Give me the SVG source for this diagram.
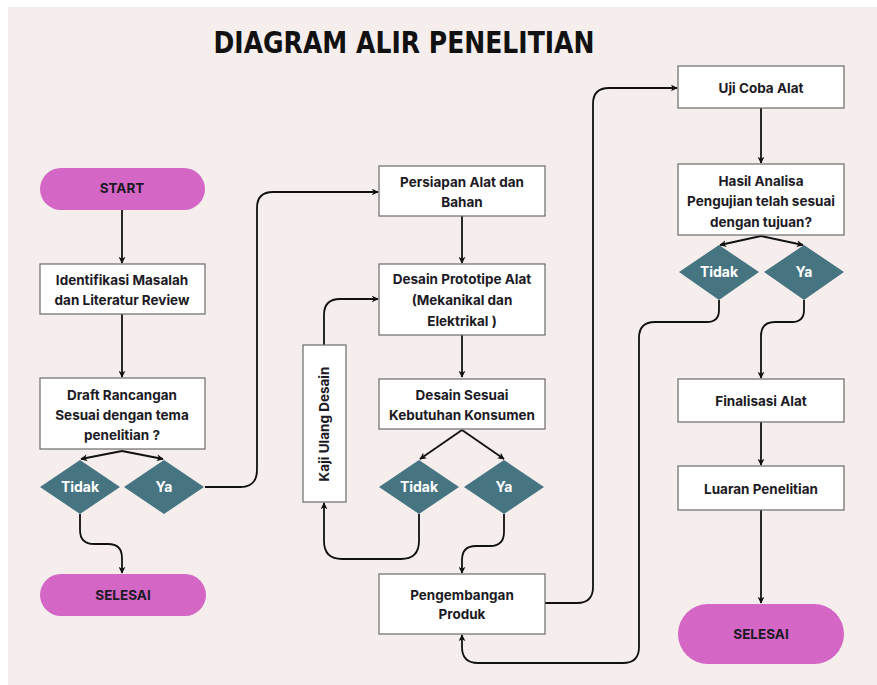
<svg xmlns="http://www.w3.org/2000/svg" width="877" height="685" viewBox="0 0 877 685">
<style>
.box{fill:#ffffff;stroke:#6b6b6b;stroke-width:1.2}
.pill{fill:#d466c5}
.dia{fill:#467581}
.t{font-family:Inter,"Noto Sans",sans-serif;font-weight:700;font-size:13.5px;fill:#1c1a24;text-anchor:middle}
.w{font-family:Inter,"Noto Sans",sans-serif;font-weight:700;font-size:14px;fill:#ffffff;text-anchor:middle}
.c{fill:none;stroke:#111111;stroke-width:1.8;marker-end:url(#ah)}
</style>
<defs>
<marker id="ah" viewBox="0 0 10 10" refX="9" refY="5" markerWidth="7" markerHeight="7" markerUnits="userSpaceOnUse" orient="auto">
<path d="M0,0 L10,5 L0,10 L3,5 Z" fill="#111111"/>
</marker>
</defs>
<rect width="877" height="685" fill="#ffffff"/>
<rect x="8" y="7" width="869" height="678" fill="#f5eeec"/>
<text x="404" y="53" font-family="'DejaVu Sans Condensed','DejaVu Sans',sans-serif" font-weight="700" font-size="30" fill="#111111" text-anchor="middle" textLength="381" lengthAdjust="spacingAndGlyphs">DIAGRAM ALIR PENELITIAN</text>

<g id="connectors">
<path class="c" d="M122,210 V263"/>
<path class="c" d="M122,314 V377"/>
<path class="c" d="M122,451 L81,459"/>
<path class="c" d="M122,451 L163,459"/>
<path class="c" d="M80,514 V530 Q80,544 94,544 H108 Q122,544 122,558 V573"/>
<path class="c" d="M205,487 H240 Q257,487 257,470 V208 Q257,192 273,192 H378"/>
<path class="c" d="M462,216 V263"/>
<path class="c" d="M462,335 V377"/>
<path class="c" d="M462,430 L420,459"/>
<path class="c" d="M462,430 L504,459"/>
<path class="c" d="M324,345 V315 Q324,299 340,299 H378"/>
<path class="c" d="M419,514 V541 Q419,559 401,559 H342 Q324,559 324,541 V503"/>
<path class="c" d="M504,514 V532 Q504,546 490,546 H476 Q462,546 462,560 V573"/>
<path class="c" d="M545,603 H577 Q593,603 593,587 V104 Q593,88 609,88 H677"/>
<path class="c" d="M761,108 V163"/>
<path class="c" d="M761,236 L720,245"/>
<path class="c" d="M761,236 L803,245"/>
<path class="c" d="M719,300 V310 Q719,322 707,322 H655 Q639,322 639,338 V647 Q639,663 623,663 H478 Q462,663 462,647 V635"/>
<path class="c" d="M804,300 V310 Q804,322 792,322 H775 Q761,322 761,336 V378"/>
<path class="c" d="M761,422 V465"/>
<path class="c" d="M761,510 V603"/>
</g>

<g id="start"><rect class="pill" x="40" y="168" width="165" height="42" rx="21"/><text class="t" x="122" y="193" font-size="14">START</text></g>
<g id="identifikasi"><rect class="box" x="40" y="264" width="165" height="50"/><text class="t" x="122" y="285">Identifikasi Masalah</text><text class="t" x="122" y="305">dan Literatur Review</text></g>
<g id="draft"><rect class="box" x="40" y="378" width="165" height="71"/><text class="t" x="122" y="400">Draft Rancangan</text><text class="t" x="122" y="420">Sesuai dengan tema</text><text class="t" x="122" y="440">penelitian ?</text></g>
<g id="tidak1"><polygon class="dia" points="80,460 120,487 80,514 40,487"/><text class="w" x="80" y="492">Tidak</text></g>
<g id="ya1"><polygon class="dia" points="164,460 204,487 164,514 124,487"/><text class="w" x="164" y="492">Ya</text></g>
<g id="selesai1"><rect class="pill" x="40" y="574" width="166" height="42" rx="21"/><text class="t" x="123" y="600" font-size="14">SELESAI</text></g>

<g id="persiapan"><rect class="box" x="379" y="166" width="166" height="50"/><text class="t" x="462" y="187">Persiapan Alat dan</text><text class="t" x="462" y="207">Bahan</text></g>
<g id="prototipe"><rect class="box" x="379" y="264" width="166" height="71"/><text class="t" x="462" y="284">Desain Prototipe Alat</text><text class="t" x="462" y="305">(Mekanikal dan</text><text class="t" x="462" y="326">Elektrikal )</text></g>
<g id="kebutuhan"><rect class="box" x="379" y="379" width="166" height="50"/><text class="t" x="462" y="400">Desain Sesuai</text><text class="t" x="462" y="420">Kebutuhan Konsumen</text></g>
<g id="kaji"><rect class="box" x="303" y="345" width="43" height="157"/><text class="t" transform="translate(329,424) rotate(-90)" x="0" y="0">Kaji Ulang Desain</text></g>
<g id="tidak2"><polygon class="dia" points="419,460 459,487 419,514 379,487"/><text class="w" x="419" y="492">Tidak</text></g>
<g id="ya2"><polygon class="dia" points="504,460 544,487 504,514 464,487"/><text class="w" x="504" y="492">Ya</text></g>
<g id="pengembangan"><rect class="box" x="379" y="574" width="166" height="60"/><text class="t" x="462" y="600">Pengembangan</text><text class="t" x="462" y="619">Produk</text></g>

<g id="ujicoba"><rect class="box" x="678" y="66" width="166" height="42"/><text class="t" x="761" y="93">Uji Coba Alat</text></g>
<g id="hasil"><rect class="box" x="678" y="164" width="166" height="71"/><text class="t" x="761" y="186">Hasil Analisa</text><text class="t" x="761" y="206">Pengujian telah sesuai</text><text class="t" x="761" y="227">dengan tujuan?</text></g>
<g id="tidak3"><polygon class="dia" points="719,245 759,272 719,300 679,272"/><text class="w" x="719" y="277">Tidak</text></g>
<g id="ya3"><polygon class="dia" points="804,245 844,272 804,300 764,272"/><text class="w" x="804" y="277">Ya</text></g>
<g id="finalisasi"><rect class="box" x="678" y="379" width="166" height="43"/><text class="t" x="761" y="406">Finalisasi Alat</text></g>
<g id="luaran"><rect class="box" x="678" y="466" width="166" height="44"/><text class="t" x="761" y="494">Luaran Penelitian</text></g>
<g id="selesai2"><rect class="pill" x="678" y="604" width="166" height="60" rx="30"/><text class="t" x="761" y="639" font-size="14">SELESAI</text></g>
</svg>
